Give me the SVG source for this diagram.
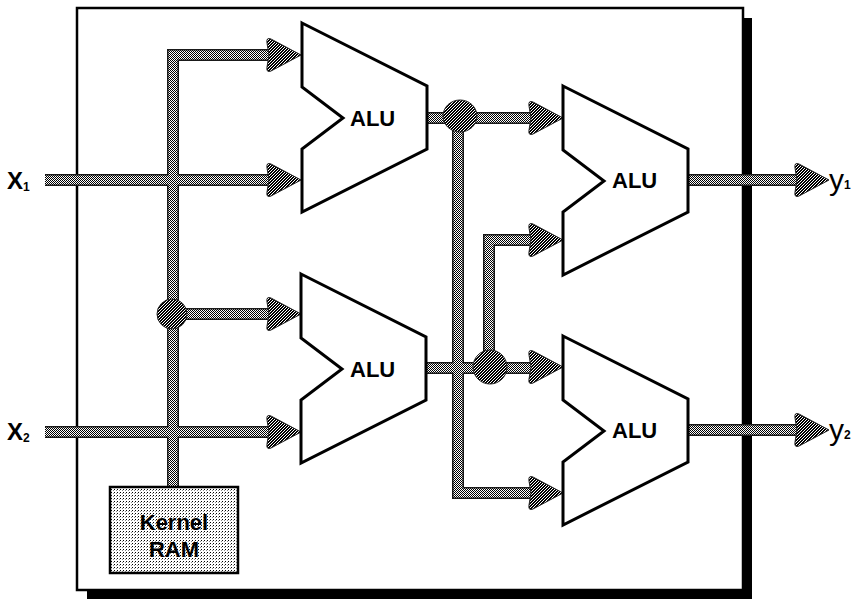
<svg xmlns="http://www.w3.org/2000/svg" width="858" height="601" viewBox="0 0 858 601">
<defs>
<pattern id="dot" width="2" height="2" patternUnits="userSpaceOnUse"><rect width="2" height="2" fill="#fff"/><rect width="1" height="1" fill="#000"/><rect x="1" y="1" width="1" height="1" fill="#000"/></pattern>
<pattern id="dark" width="3" height="3" patternUnits="userSpaceOnUse"><rect width="3" height="3" fill="#000"/><rect x="1" y="1" width="1" height="1" fill="#fff"/><rect x="2" y="0" width="1" height="1" fill="#fff"/><rect x="0" y="2" width="1" height="1" fill="#fff"/></pattern>
<pattern id="lite" width="3" height="3" patternUnits="userSpaceOnUse"><rect width="3" height="3" fill="#fff"/><rect width="1" height="1" fill="#000"/><rect x="2" y="1" width="1" height="1" fill="#888"/></pattern>
<path id="ah" d="M0,0 L-30,-16 Q-35,-18 -34,-12 L-32,0 L-34,12 Q-35,18 -30,16 Z"/>
<path id="alu" d="M0,0 L125,63 L125,126 L0,189 L0,126 L41,95 L0,64 Z"/>
</defs>
<style>
.bus{fill:none;stroke:#1a1a1a;stroke-width:12;stroke-linejoin:miter;stroke-linecap:butt}
.busin{fill:none;stroke:url(#dot);stroke-width:9;stroke-linejoin:miter;stroke-linecap:butt}
.ah{fill:url(#dark);stroke:#222;stroke-width:1}
.jn{fill:url(#dark);stroke:#222;stroke-width:1}
.alu{fill:#fff;stroke:#000;stroke-width:3;stroke-linejoin:miter}
.t{font-family:"Liberation Sans",Arial,sans-serif;font-weight:bold;fill:#000}
.lbl{font-size:22px}
.io{font-size:24px}
.sub{font-size:12px}
.out{font-family:"Liberation Sans",Arial,sans-serif;font-size:30px;fill:#000}
</style>
<g id="frame">
<rect x="87" y="18" width="665" height="581" fill="#000"/>
<rect x="77" y="8" width="666" height="582" fill="#fff" stroke="#000" stroke-width="2.5"/>
</g>
<g id="connectors">
<g class="bus">
<path d="M45,180 H270"/>
<path d="M45,432 H270"/>
<path d="M173,487 V55 H270"/>
<path d="M172,314 H270"/>
<path d="M427,118 H533"/>
<path d="M458,118 V493 H533"/>
<path d="M427,368 H533"/>
<path d="M489,368 V240 H533"/>
<path d="M688,180 H797"/>
<path d="M688,430 H797"/>
</g>
<g class="busin">
<path d="M45,180 H270"/>
<path d="M45,432 H270"/>
<path d="M173,487 V55 H270"/>
<path d="M172,314 H270"/>
<path d="M427,118 H533"/>
<path d="M458,118 V493 H533"/>
<path d="M427,368 H533"/>
<path d="M489,368 V240 H533"/>
<path d="M688,180 H797"/>
<path d="M688,430 H797"/>
</g>
<ellipse class="jn" cx="172" cy="314" rx="15" ry="15"/>
<ellipse class="jn" cx="460" cy="116" rx="17" ry="16"/>
<ellipse class="jn" cx="490" cy="367" rx="17" ry="17"/>
<use href="#ah" class="ah" x="301" y="55"/>
<use href="#ah" class="ah" x="301" y="180"/>
<use href="#ah" class="ah" x="301" y="314"/>
<use href="#ah" class="ah" x="301" y="432"/>
<use href="#ah" class="ah" x="563" y="118"/>
<use href="#ah" class="ah" x="563" y="240"/>
<use href="#ah" class="ah" x="563" y="367"/>
<use href="#ah" class="ah" x="563" y="493"/>
<use href="#ah" class="ah" x="829" y="180"/>
<use href="#ah" class="ah" x="829" y="430"/>
</g>
<g id="alu1"><use href="#alu" class="alu" x="302" y="23"/><text class="t lbl" x="350" y="126">ALU</text></g>
<g id="alu2"><use href="#alu" class="alu" x="301" y="274"/><text class="t lbl" x="350" y="377">ALU</text></g>
<g id="alu3"><use href="#alu" class="alu" x="563" y="86"/><text class="t lbl" x="612" y="188">ALU</text></g>
<g id="alu4"><use href="#alu" class="alu" x="563" y="336"/><text class="t lbl" x="612" y="438">ALU</text></g>
<g id="kernel-ram">
<rect x="110" y="487" width="128" height="86" fill="url(#lite)" stroke="#000" stroke-width="2.5"/>
<text class="t" font-size="22" x="174" y="530" text-anchor="middle">Kernel</text>
<text class="t" font-size="22" x="174" y="557" text-anchor="middle">RAM</text>
</g>
<g id="inputs">
<text class="t io" x="7" y="189">X<tspan class="sub" dy="2">1</tspan></text>
<text class="t io" x="7" y="440">X<tspan class="sub" dy="2">2</tspan></text>
</g>
<g id="outputs">
<text class="out" x="829" y="190">y<tspan class="sub" font-weight="bold" dy="-1">1</tspan></text>
<text class="out" x="829" y="440">y<tspan class="sub" font-weight="bold" dy="-1">2</tspan></text>
</g>
</svg>
